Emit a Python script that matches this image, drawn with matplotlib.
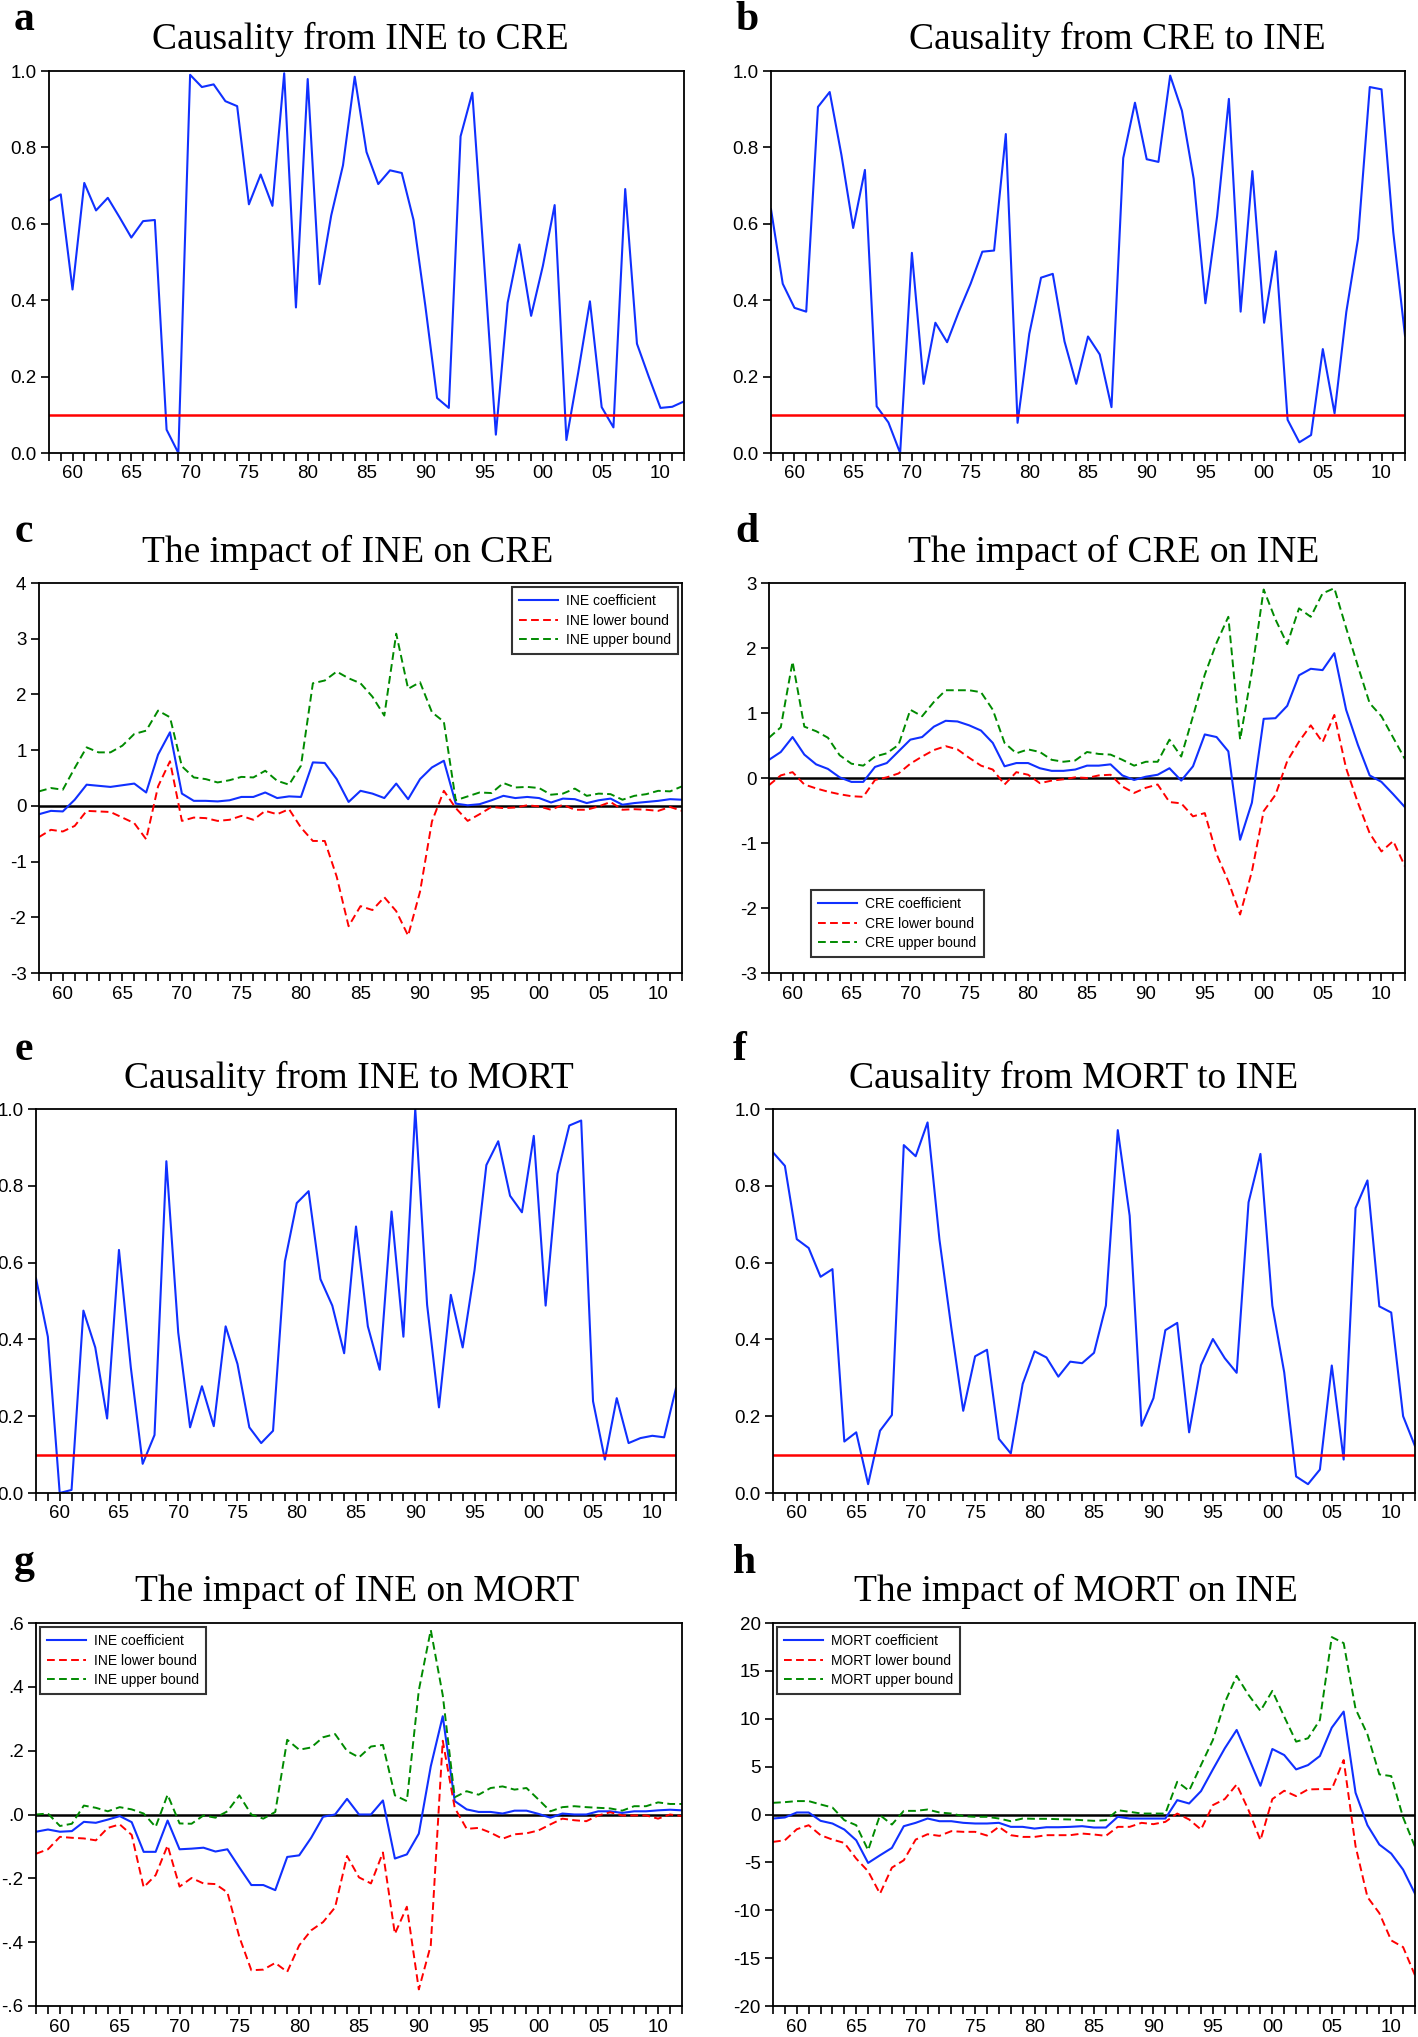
import matplotlib
matplotlib.use("Agg")
import matplotlib.pyplot as plt
from matplotlib import font_manager as fm
import numpy as np

years = list(range(1958, 2013))

# ---------------- data ----------------
caus_ine_cre = [0.661, 0.677, 0.428, 0.707, 0.635, 0.668, 0.617, 0.564, 0.607, 0.610,
                0.061, 0.0, 0.990, 0.958, 0.965, 0.921, 0.908, 0.651, 0.729, 0.647,
                0.994, 0.381, 0.979, 0.442, 0.622, 0.753, 0.985, 0.788, 0.704, 0.740,
                0.733, 0.610, 0.386, 0.144, 0.118, 0.829, 0.943, 0.50, 0.048, 0.393,
                0.546, 0.359, 0.49, 0.649, 0.034, 0.21, 0.397, 0.12, 0.067, 0.691,
                0.286, 0.20, 0.118, 0.121, 0.135]
caus_cre_ine = [0.638, 0.443, 0.380, 0.370, 0.906, 0.945, 0.78, 0.589, 0.741, 0.122,
                0.080, 0.0, 0.524, 0.181, 0.341, 0.290, 0.37, 0.443, 0.527, 0.530,
                0.835, 0.079, 0.312, 0.459, 0.469, 0.292, 0.181, 0.305, 0.258, 0.120,
                0.772, 0.917, 0.769, 0.762, 0.988, 0.896, 0.718, 0.392, 0.62, 0.927,
                0.370, 0.738, 0.341, 0.528, 0.087, 0.028, 0.047, 0.272, 0.104, 0.369,
                0.561, 0.958, 0.952, 0.578, 0.307]
caus_ine_mort = [0.559, 0.407, 0.0, 0.008, 0.475, 0.379, 0.194, 0.633, 0.327, 0.076,
                 0.151, 0.864, 0.418, 0.171, 0.278, 0.174, 0.434, 0.336, 0.171, 0.130,
                 0.162, 0.603, 0.755, 0.786, 0.557, 0.488, 0.364, 0.694, 0.434, 0.321,
                 0.733, 0.407, 1.0, 0.49, 0.223, 0.516, 0.379, 0.58, 0.854, 0.916,
                 0.774, 0.731, 0.930, 0.488, 0.831, 0.957, 0.970, 0.239, 0.087, 0.247,
                 0.130, 0.143, 0.149, 0.145, 0.273]
caus_mort_ine = [0.887, 0.852, 0.661, 0.638, 0.563, 0.583, 0.134, 0.158, 0.023, 0.162,
                 0.203, 0.906, 0.877, 0.965, 0.66, 0.43, 0.214, 0.356, 0.373, 0.141,
                 0.103, 0.284, 0.369, 0.353, 0.303, 0.342, 0.338, 0.365, 0.488, 0.945,
                 0.722, 0.175, 0.247, 0.424, 0.443, 0.158, 0.333, 0.401, 0.351, 0.313,
                 0.757, 0.883, 0.488, 0.314, 0.043, 0.023, 0.061, 0.332, 0.087, 0.742,
                 0.814, 0.486, 0.470, 0.20, 0.122]

ine_cre_coef = [-0.15, -0.09, -0.10, 0.11, 0.38, 0.36, 0.34, 0.37, 0.40, 0.24,
                0.92, 1.32, 0.22, 0.09, 0.09, 0.08, 0.10, 0.16, 0.16, 0.24,
                0.14, 0.17, 0.16, 0.78, 0.77, 0.48, 0.07, 0.27, 0.22, 0.14,
                0.40, 0.12, 0.48, 0.69, 0.81, 0.04, 0.01, 0.03, 0.10, 0.18,
                0.14, 0.16, 0.14, 0.06, 0.13, 0.12, 0.05, 0.10, 0.13, 0.02,
                0.05, 0.07, 0.09, 0.12, 0.11]
ine_cre_low = [-0.56, -0.43, -0.46, -0.36, -0.09, -0.10, -0.11, -0.21, -0.31, -0.60,
               0.35, 0.80, -0.27, -0.21, -0.22, -0.27, -0.25, -0.18, -0.25, -0.09,
               -0.15, -0.06, -0.39, -0.63, -0.63, -1.27, -2.16, -1.80, -1.87, -1.64,
               -1.89, -2.33, -1.54, -0.28, 0.27, -0.04, -0.27, -0.15, -0.02, -0.04,
               -0.03, 0.01, -0.01, -0.07, 0.02, -0.07, -0.07, -0.01, 0.07, -0.07,
               -0.06, -0.07, -0.09, -0.02, -0.09]
ine_cre_up = [0.26, 0.32, 0.29, 0.68, 1.05, 0.96, 0.96, 1.08, 1.29, 1.35,
              1.71, 1.59, 0.71, 0.51, 0.48, 0.42, 0.46, 0.52, 0.51, 0.63,
              0.45, 0.38, 0.72, 2.20, 2.25, 2.41, 2.29, 2.20, 1.96, 1.62,
              3.09, 2.10, 2.22, 1.68, 1.51, 0.10, 0.17, 0.24, 0.23, 0.41,
              0.33, 0.34, 0.32, 0.20, 0.22, 0.31, 0.18, 0.22, 0.21, 0.11,
              0.18, 0.21, 0.27, 0.26, 0.35]

cre_ine_coef = [0.28, 0.40, 0.63, 0.36, 0.21, 0.14, 0.01, -0.06, -0.06, 0.17,
                0.23, 0.41, 0.59, 0.63, 0.79, 0.88, 0.87, 0.81, 0.73, 0.54,
                0.18, 0.23, 0.23, 0.15, 0.11, 0.11, 0.13, 0.19, 0.19, 0.21,
                0.04, -0.03, 0.02, 0.05, 0.15, -0.04, 0.18, 0.67, 0.63, 0.41,
                -0.95, -0.38, 0.91, 0.92, 1.11, 1.58, 1.68, 1.66, 1.92, 1.05,
                0.51, 0.04, -0.06, -0.25, -0.45]
cre_ine_low = [-0.11, 0.04, 0.09, -0.10, -0.16, -0.21, -0.25, -0.28, -0.29, -0.03,
               0.01, 0.07, 0.22, 0.33, 0.43, 0.49, 0.44, 0.31, 0.19, 0.13,
               -0.10, 0.09, 0.05, -0.08, -0.04, -0.02, 0.01, 0.00, 0.04, 0.05,
               -0.13, -0.23, -0.15, -0.10, -0.37, -0.39, -0.59, -0.54, -1.17, -1.59,
               -2.10, -1.44, -0.51, -0.26, 0.26, 0.56, 0.81, 0.55, 0.97, 0.15,
               -0.38, -0.85, -1.13, -0.97, -1.36]
cre_ine_up = [0.62, 0.78, 1.79, 0.79, 0.72, 0.62, 0.35, 0.22, 0.19, 0.33,
              0.38, 0.51, 1.05, 0.95, 1.17, 1.35, 1.35, 1.35, 1.32, 1.05,
              0.54, 0.38, 0.44, 0.40, 0.28, 0.25, 0.27, 0.40, 0.37, 0.36,
              0.28, 0.19, 0.25, 0.25, 0.59, 0.33, 0.95, 1.59, 2.08, 2.48,
              0.59, 1.64, 2.90, 2.44, 2.06, 2.61, 2.48, 2.84, 2.92, 2.31,
              1.72, 1.15, 0.95, 0.62, 0.29]

ine_mort_coef = [-0.054, -0.047, -0.054, -0.052, -0.023, -0.026, -0.016, -0.005, -0.024, -0.117,
                 -0.117, -0.019, -0.109, -0.107, -0.104, -0.116, -0.109, -0.166, -0.221, -0.221,
                 -0.237, -0.133, -0.128, -0.073, -0.007, 0.0, 0.049, 0.0, 0.0, 0.044,
                 -0.138, -0.125, -0.060, 0.151, 0.308, 0.042, 0.016, 0.008, 0.008, 0.003,
                 0.012, 0.012, 0.002, -0.010, 0.003, 0.0, 0.0, 0.010, 0.010, 0.005,
                 0.010, 0.010, 0.013, 0.015, 0.013]
ine_mort_low = [-0.123, -0.109, -0.070, -0.073, -0.075, -0.081, -0.042, -0.031, -0.064, -0.228,
                -0.190, -0.097, -0.226, -0.199, -0.216, -0.218, -0.244, -0.384, -0.488, -0.486,
                -0.465, -0.493, -0.410, -0.363, -0.337, -0.291, -0.130, -0.197, -0.216, -0.119,
                -0.374, -0.289, -0.548, -0.410, 0.231, 0.021, -0.045, -0.042, -0.057, -0.076,
                -0.062, -0.059, -0.050, -0.031, -0.013, -0.018, -0.021, -0.003, 0.007, -0.003,
                -0.003, -0.003, -0.013, 0.0, -0.005]
ine_mort_up = [0.0, 0.003, -0.036, -0.029, 0.028, 0.021, 0.010, 0.023, 0.016, 0.003,
               -0.039, 0.062, -0.028, -0.029, -0.003, -0.010, 0.010, 0.060, 0.0, -0.013,
               0.008, 0.234, 0.203, 0.210, 0.242, 0.252, 0.199, 0.179, 0.213, 0.218,
               0.060, 0.042, 0.389, 0.578, 0.374, 0.054, 0.073, 0.062, 0.083, 0.088,
               0.078, 0.083, 0.047, 0.010, 0.023, 0.026, 0.023, 0.021, 0.019, 0.012,
               0.026, 0.026, 0.038, 0.033, 0.033]

mort_ine_coef = [-0.42, -0.31, 0.21, 0.21, -0.66, -0.94, -1.57, -2.69, -5.06, -4.26,
                 -3.49, -1.22, -0.87, -0.42, -0.70, -0.70, -0.87, -0.94, -0.94, -0.87,
                 -1.29, -1.29, -1.47, -1.33, -1.33, -1.29, -1.22, -1.36, -1.36, -0.24,
                 -0.42, -0.42, -0.42, -0.42, 1.50, 1.15, 2.44, 4.71, 6.91, 8.83,
                 5.93, 3.00, 6.84, 6.21, 4.71, 5.16, 6.11, 9.07, 10.75, 2.27,
                 -1.12, -3.14, -4.08, -5.76, -8.27]
mort_ine_low = [-2.86, -2.69, -1.54, -1.12, -2.16, -2.62, -2.97, -4.61, -5.93, -8.27,
                -5.55, -4.78, -2.62, -2.06, -2.23, -1.74, -1.81, -1.81, -2.20, -1.29,
                -2.16, -2.34, -2.34, -2.16, -2.16, -2.16, -1.99, -2.09, -2.23, -1.29,
                -1.29, -0.87, -1.01, -0.77, 0.10, -0.52, -1.57, 0.98, 1.61, 3.14,
                0.45, -2.69, 1.61, 2.48, 1.92, 2.62, 2.65, 2.65, 5.69, -3.31,
                -8.62, -10.3, -13.15, -13.85, -16.8]
mort_ine_up = [1.22, 1.29, 1.40, 1.40, 1.05, 0.73, -0.59, -1.12, -3.73, -0.07,
               -1.05, 0.38, 0.38, 0.52, 0.21, 0.10, -0.17, -0.24, -0.24, -0.42,
               -0.70, -0.42, -0.45, -0.45, -0.49, -0.52, -0.59, -0.66, -0.59, 0.45,
               0.28, 0.10, 0.10, 0.10, 3.42, 2.48, 5.16, 7.78, 11.69, 14.48,
               12.49, 10.82, 12.91, 10.22, 7.61, 7.96, 9.87, 18.53, 17.90, 11.03,
               8.37, 4.19, 4.01, -0.31, -3.38]

threshold = 0.1

# ---------------- fonts ----------------
avail = {f.name for f in fm.fontManager.ttflist}
narrow = "Liberation Sans Narrow" if "Liberation Sans Narrow" in avail else "Liberation Sans"
serif = "Liberation Serif" if "Liberation Serif" in avail else "DejaVu Serif"

BLUE = "#1030ff"
RED = "#ff0000"
GREEN = "#008a00"

W, H = 1418, 2037
fig = plt.figure(figsize=(W / 100, H / 100), dpi=100)


def add_ax(l, t, r, b):
    return fig.add_axes([l / W, 1 - b / H, (r - l) / W, (b - t) / H])


def style(ax, ylim, yticks, ylabels):
    ax.set_xlim(1958, 2012)
    ax.set_ylim(*ylim)
    ax.set_xticks(years)
    ax.set_xticklabels([("%02d" % (y % 100)) if y % 5 == 0 else "" for y in years])
    ax.set_yticks(yticks)
    ax.set_yticklabels(ylabels)
    ax.tick_params(axis="both", direction="out", length=6, width=1.2,
                   labelsize=13.5, pad=3)
    for lab in ax.get_xticklabels() + ax.get_yticklabels():
        lab.set_family(narrow)
    for s in ax.spines.values():
        s.set_linewidth(1.3)


def title(cx, cy, text):
    fig.text(cx / W, 1 - cy / H, text, ha="center", va="center",
             family=serif, fontsize=27)


def letter(cx, cy, text):
    fig.text(cx / W, 1 - cy / H, text, ha="center", va="center",
             family=serif, fontsize=30, fontweight="bold")


def causality(ax, vals):
    ax.plot(years, vals, color=BLUE, lw=1.5)
    ax.axhline(threshold, color=RED, lw=1.8)
    style(ax, (0, 1), [0, 0.2, 0.4, 0.6, 0.8, 1.0],
          ["0.0", "0.2", "0.4", "0.6", "0.8", "1.0"])


def impact(ax, coef, low, up, name, loc, ylim, yticks, ylabels, anchor=None):
    ax.plot(years, coef, color=BLUE, lw=1.5, label=f"{name} coefficient")
    ax.plot(years, low, color=RED, lw=1.4, ls=(0, (4, 2.2)), label=f"{name} lower bound")
    ax.plot(years, up, color=GREEN, lw=1.4, ls=(0, (4, 2.2)), label=f"{name} upper bound")
    ax.axhline(0, color="black", lw=1.8, zorder=1)
    style(ax, ylim, yticks, ylabels)
    kw = {}
    if anchor is not None:
        kw["bbox_to_anchor"] = anchor
    leg = ax.legend(loc=loc, frameon=True, fancybox=False, edgecolor="black",
                    prop={"family": narrow, "size": 10}, handlelength=2.8,
                    handletextpad=0.6, borderpad=0.5, labelspacing=0.4,
                    borderaxespad=0.3, **kw)
    leg.get_frame().set_linewidth(1.5)


ax_a = add_ax(49, 71, 684, 453)
causality(ax_a, caus_ine_cre)
ax_b = add_ax(771, 71, 1405, 453)
causality(ax_b, caus_cre_ine)

ax_c = add_ax(39, 583, 682, 973)
impact(ax_c, ine_cre_coef, ine_cre_low, ine_cre_up, "INE", "upper right",
       (-3, 4), [-3, -2, -1, 0, 1, 2, 3, 4], ["-3", "-2", "-1", "0", "1", "2", "3", "4"])
ax_d = add_ax(769, 583, 1405, 973)
impact(ax_d, cre_ine_coef, cre_ine_low, cre_ine_up, "CRE", "lower left",
       (-3, 3), [-3, -2, -1, 0, 1, 2, 3], ["-3", "-2", "-1", "0", "1", "2", "3"],
       anchor=(0.06, 0.03))

ax_e = add_ax(36, 1109, 676, 1493)
causality(ax_e, caus_ine_mort)
ax_f = add_ax(773, 1109, 1415, 1493)
causality(ax_f, caus_mort_ine)

ax_g = add_ax(36, 1623, 682, 2006)
impact(ax_g, ine_mort_coef, ine_mort_low, ine_mort_up, "INE", "upper left",
       (-0.6, 0.6), [-0.6, -0.4, -0.2, 0, 0.2, 0.4, 0.6],
       ["-.6", "-.4", "-.2", ".0", ".2", ".4", ".6"])
ax_h = add_ax(773, 1623, 1415, 2006)
impact(ax_h, mort_ine_coef, mort_ine_low, mort_ine_up, "MORT", "upper left",
       (-20, 20), [-20, -15, -10, -5, 0, 5, 10, 15, 20],
       ["-20", "-15", "-10", "-5", "0", "5", "10", "15", "20"])

title(360, 39, "Causality from INE to CRE")
title(1117, 39, "Causality from CRE to INE")
title(348, 552, "The impact of INE on CRE")
title(1114, 552, "The impact of CRE on INE")
title(349, 1078, "Causality from INE to MORT")
title(1074, 1078, "Causality from MORT to INE")
title(357, 1591, "The impact of INE on MORT")
title(1076, 1591, "The impact of MORT on INE")

letter(24, 20, "a")
letter(747, 20, "b")
letter(24, 532, "c")
letter(747, 532, "d")
letter(24, 1050, "e")
letter(740, 1050, "f")
letter(24, 1563, "g")
letter(744, 1563, "h")

fig.savefig("out.png", dpi=100)
